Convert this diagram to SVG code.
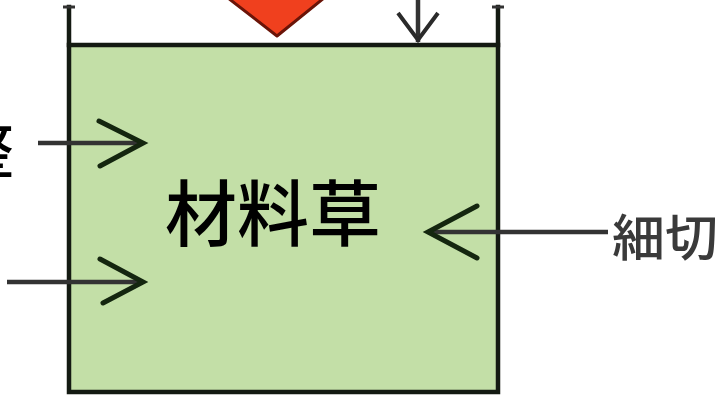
<svg xmlns="http://www.w3.org/2000/svg" width="721" height="398" viewBox="0 0 721 398">
<style>
.frame{fill:none;stroke:#141a12;stroke-width:4.5;stroke-linecap:square}
.cap{stroke:#333;stroke-width:3}
.arr{fill:none;stroke:#14260f;stroke-width:5;stroke-linecap:round;stroke-linejoin:miter}
.line{stroke:#333;stroke-width:4.5}
.big{font-family:"Noto Sans CJK JP","Noto Sans CJK SC",sans-serif;fill:#000;font-weight:500}
</style>
<rect width="721" height="398" fill="#ffffff"/>
<g id="tank">
<rect x="70" y="46" width="427" height="346" fill="#c3dfa7"/>
<path class="frame" d="M69,7 V392 H498 V7"/>
<line class="frame" x1="69" y1="45" x2="498" y2="45"/>
<line class="cap" x1="63" y1="7" x2="75" y2="7"/>
<line class="cap" x1="492" y1="7" x2="504" y2="7"/>
<text class="big" x="165" y="240" font-size="72">材料草</text>
</g>
<g id="input-red">
<path d="M228,-2 L324,-2 L277,36 Z" fill="#f0401e" stroke="#6a1408" stroke-width="3" stroke-linejoin="round"/>
</g>
<g id="label-left">
<text class="big" x="14" y="173" font-size="62" text-anchor="end">整</text>
</g>
<g id="label-right">
<text x="612" y="256" font-size="50" font-weight="500" fill="#3a3a3a" font-family="Noto Sans CJK JP,sans-serif" textLength="106" lengthAdjust="spacingAndGlyphs">細切</text>
</g>
<g id="connectors">
<line class="line" x1="418" y1="0" x2="418" y2="42"/>
<path d="M398,13 L418,40 L438,13" fill="none" stroke="#2a2a2a" stroke-width="4"/>
<line class="line" x1="38" y1="143" x2="140" y2="143"/>
<path class="arr" d="M99,121 L143,143 L100,166"/>
<line class="line" x1="7" y1="282" x2="140" y2="282"/>
<path class="arr" d="M100,259 L143,282 L103,303"/>
<line class="line" x1="432" y1="232" x2="608" y2="232"/>
<path class="arr" d="M477,206 L428,232 L477,258"/>
</g>
</svg>
